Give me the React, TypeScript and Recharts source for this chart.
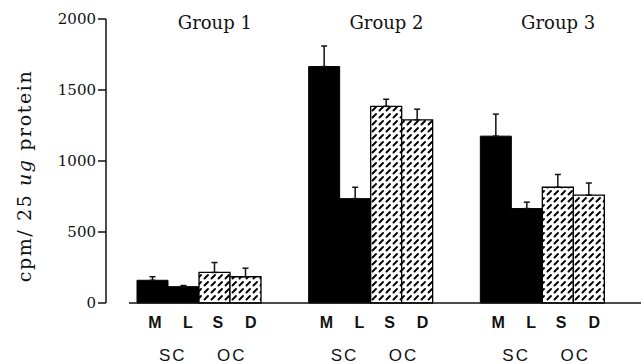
import React from 'react';
import {
  BarChart,
  Bar,
  XAxis,
  YAxis,
  ErrorBar,
  ReferenceLine
} from 'recharts';

// values (cpm / 25 ug protein)
const groups = ['Group 1', 'Group 2', 'Group 3'];
const mValues = [160, 1665, 1175];
const mErrors = [25, 145, 155];
const lValues = [115, 735, 665];
const lErrors = [8, 80, 45];
const sValues = [215, 1385, 815];
const sErrors = [70, 50, 90];
const dValues = [185, 1290, 760];
const dErrors = [60, 75, 85];
const yTicks = [0, 500, 1000, 1500, 2000];
const barLetters = ['M', 'L', 'S', 'D'];
const subLabels = ['SC', 'OC'];

const data = groups.map((g, i) => ({
  group: g,
  M: mValues[i],
  L: lValues[i],
  S: sValues[i],
  D: dValues[i],
  mErr: [0, mErrors[i]],
  lErr: [0, lErrors[i]],
  sErr: [0, sErrors[i]],
  dErr: [0, dErrors[i]]
}));

const SERIF = '"DejaVu Serif", serif';
const SANS = '"Liberation Sans", Arial, sans-serif';

// offsets of the letters under each group, relative to the group centre
const letterOffsets = [-45, -12, 18, 51];
const subOffsets = [-27, 32];

function BottomTick(props: any) {
  const { x, y } = props;
  return (
    <g>
      {barLetters.map((l, i) => (
        <text
          key={l}
          x={x + letterOffsets[i]}
          y={y + 17}
          textAnchor="middle"
          fontFamily={SANS}
          fontWeight="bold"
          fontSize={16}
          fill="#111"
        >
          {l}
        </text>
      ))}
      {subLabels.map((s, i) => (
        <text
          key={s}
          x={x + subOffsets[i]}
          y={y + 50}
          textAnchor="middle"
          fontFamily={SANS}
          fontSize={17}
          letterSpacing={2}
          fill="#111"
        >
          {s}
        </text>
      ))}
    </g>
  );
}

function TopTick(props: any) {
  const { x, payload } = props;
  return (
    <text x={x + 15} y={29} textAnchor="middle" fontFamily={SERIF} fontSize={18} fill="#111">
      {payload.value}
    </text>
  );
}

function YLabel() {
  const cx = 24;
  const cy = 176;
  return (
    <text
      x={cx}
      y={cy}
      transform={`rotate(-90, ${cx}, ${cy})`}
      textAnchor="middle"
      dominantBaseline="central"
      fontFamily={SERIF}
      fontSize={19}
      letterSpacing={1.6}
      fill="#111"
    >
      cpm/ 25 <tspan fontStyle="italic">ug</tspan> protein
    </text>
  );
}

function Baseline(props: any) {
  const { x1, y1, x2 } = props;
  return <line x1={x1 + 23} y1={y1} x2={x2} y2={y1} stroke="#111" strokeWidth={1.5} />;
}

export default function App() {
  return (
    <div style={{ position: 'absolute', left: 0, top: 0, background: '#fff' }}>
      <BarChart
        width={641}
        height={364}
        data={data}
        margin={{ top: 18, right: 0, bottom: 0, left: 0 }}
        barCategoryGap={23}
        barGap={0}
      >
        <defs>
          <pattern id="dash" width="7" height="7" patternUnits="userSpaceOnUse">
            <rect width="7" height="7" fill="#fff" />
            <line x1="1.5" y1="5.5" x2="5" y2="2" stroke="#000" strokeWidth="1.9" strokeLinecap="round" />
          </pattern>
        </defs>
        <XAxis
          dataKey="group"
          xAxisId={0}
          height={61}
          axisLine={false}
          tickLine={false}
          padding={{ left: 8, right: 12 }}
          tick={<BottomTick />}
          interval={0}
        />
        <XAxis
          dataKey="group"
          xAxisId="top"
          orientation="top"
          height={1}
          axisLine={false}
          tickLine={false}
          padding={{ left: 8, right: 12 }}
          tick={<TopTick />}
          interval={0}
        />
        <YAxis
          width={106}
          domain={[0, 2000]}
          ticks={yTicks}
          tickSize={8}
          tickMargin={2}
          axisLine={{ stroke: '#111', strokeWidth: 1.5 }}
          tickLine={{ stroke: '#111', strokeWidth: 1.5 }}
          tick={{ fontFamily: SERIF, fontSize: 15, fill: '#111' }}
          label={<YLabel />}
        />
        <ReferenceLine y={0} stroke="#111" shape={<Baseline />} />
        <Bar dataKey="M" fill="#000" stroke="#000" isAnimationActive={false}>
          <ErrorBar dataKey="mErr" width={3} stroke="#111" strokeWidth={1.5} direction="y" />
        </Bar>
        <Bar dataKey="L" fill="#000" stroke="#000" isAnimationActive={false}>
          <ErrorBar dataKey="lErr" width={3} stroke="#111" strokeWidth={1.5} direction="y" />
        </Bar>
        <Bar dataKey="S" fill="url(#dash)" stroke="#000" strokeWidth={1.3} isAnimationActive={false}>
          <ErrorBar dataKey="sErr" width={3} stroke="#111" strokeWidth={1.5} direction="y" />
        </Bar>
        <Bar dataKey="D" fill="url(#dash)" stroke="#000" strokeWidth={1.3} isAnimationActive={false}>
          <ErrorBar dataKey="dErr" width={3} stroke="#111" strokeWidth={1.5} direction="y" />
        </Bar>
      </BarChart>
    </div>
  );
}
